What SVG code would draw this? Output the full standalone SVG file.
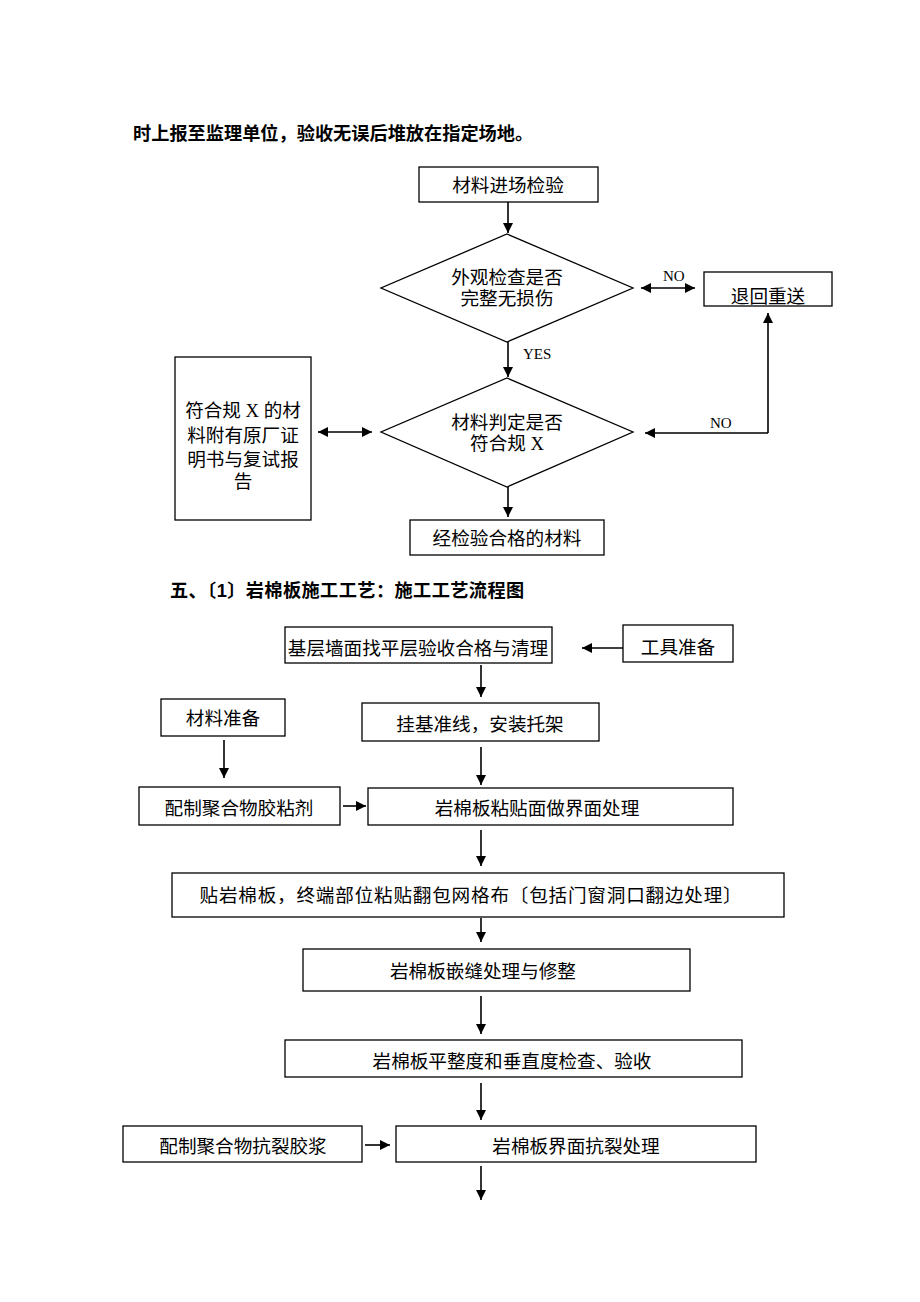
<svg xmlns="http://www.w3.org/2000/svg" width="920" height="1302" viewBox="0 0 920 1302">
<style>
.b{fill:#fff;stroke:#000;stroke-width:1.3}
.t{font-family:"Liberation Serif","Noto Sans CJK SC",serif;font-size:18.6px;fill:#000;text-anchor:middle;dominant-baseline:central}
.h{font-family:"Liberation Sans","Noto Sans CJK SC",sans-serif;font-size:18.2px;font-weight:bold;fill:#000}
.l{fill:none;stroke:#000;stroke-width:1.6}
.s{font-family:"Liberation Serif",serif;font-size:15px;fill:#000}
</style>
<defs>
<marker id="a" viewBox="0 0 10 10" refX="10" refY="5" markerWidth="10" markerHeight="10" markerUnits="userSpaceOnUse" orient="auto-start-reverse"><path d="M0,0L10,5L0,10z" fill="#000"/></marker>
</defs>
<text class="h" x="133" y="140">时上报至监理单位，验收无误后堆放在指定场地。</text>
<text class="h" x="170" y="597" letter-spacing="0.4">五、〔1〕岩棉板施工工艺：施工工艺流程图</text>
<g id="n1"><rect class="b" x="419" y="167" width="179" height="35"/><text class="t" x="508" y="185">材料进场检验</text></g>
<g id="d1"><polygon class="b" points="507,234 633,288 507,342 381,288"/><text class="t" x="507" y="277">外观检查是否</text><text class="t" x="507" y="298">完整无损伤</text></g>
<g id="n2"><rect class="b" x="704" y="272" width="128" height="34"/><text class="t" x="768" y="296">退回重送</text></g>
<g id="d2"><polygon class="b" points="507,378 633,432 507,487 381,432"/><text class="t" x="507" y="422">材料判定是否</text><text class="t" x="507" y="443">符合规 X</text></g>
<g id="n3"><rect class="b" x="175" y="357" width="136" height="163"/><text class="t" x="243" y="410">符合规 X 的材</text><text class="t" x="243" y="435">料附有原厂证</text><text class="t" x="243" y="459">明书与复试报</text><text class="t" x="243" y="481">告</text></g>
<g id="n4"><rect class="b" x="410" y="520" width="194" height="35"/><text class="t" x="507" y="538">经检验合格的材料</text></g>
<g id="n5"><rect class="b" x="285" y="627" width="267" height="36"/><text class="t" x="418" y="648">基层墙面找平层验收合格与清理</text></g>
<g id="n6"><rect class="b" x="623" y="625" width="110" height="37"/><text class="t" x="678" y="647">工具准备</text></g>
<g id="n7"><rect class="b" x="362" y="703" width="237" height="38"/><text class="t" x="480" y="724">挂基准线，安装托架</text></g>
<g id="n8"><rect class="b" x="161" y="699" width="124" height="37"/><text class="t" x="223" y="718">材料准备</text></g>
<g id="n9"><rect class="b" x="139" y="787" width="201" height="38"/><text class="t" x="239" y="808">配制聚合物胶粘剂</text></g>
<g id="n10"><rect class="b" x="368" y="788" width="365" height="37"/><text class="t" x="537" y="808">岩棉板粘贴面做界面处理</text></g>
<g id="n11"><rect class="b" x="172" y="873" width="612" height="44"/><text class="t" x="471" y="895" letter-spacing="0.8">贴岩棉板，终端部位粘贴翻包网格布〔包括门窗洞口翻边处理〕</text></g>
<g id="n12"><rect class="b" x="303" y="949" width="387" height="42"/><text class="t" x="483" y="971">岩棉板嵌缝处理与修整</text></g>
<g id="n13"><rect class="b" x="285" y="1040" width="457" height="37"/><text class="t" x="512" y="1061">岩棉板平整度和垂直度检查、验收</text></g>
<g id="n14"><rect class="b" x="123" y="1126" width="239" height="36"/><text class="t" x="243" y="1146">配制聚合物抗裂胶浆</text></g>
<g id="n15"><rect class="b" x="396" y="1126" width="360" height="36"/><text class="t" x="576" y="1146">岩棉板界面抗裂处理</text></g>
<g id="connectors">
<path class="l" d="M508,202V233" marker-end="url(#a)"/>
<path class="l" d="M641,288H695" marker-start="url(#a)" marker-end="url(#a)"/>
<text class="s" x="663" y="281">NO</text>
<path class="l" d="M508,342V377" marker-end="url(#a)"/>
<text class="s" x="523" y="359">YES</text>
<path class="l" d="M768,433V313" marker-end="url(#a)"/>
<path class="l" d="M768,433H645" marker-end="url(#a)"/>
<text class="s" x="710" y="428">NO</text>
<path class="l" d="M318,432H372" marker-start="url(#a)" marker-end="url(#a)"/>
<path class="l" d="M508,487V517" marker-end="url(#a)"/>
<path class="l" d="M623,648H582" marker-end="url(#a)"/>
<path class="l" d="M481,665V697" marker-end="url(#a)"/>
<path class="l" d="M224,740V778" marker-end="url(#a)"/>
<path class="l" d="M481,747V785" marker-end="url(#a)"/>
<path class="l" d="M343,806H366" marker-end="url(#a)"/>
<path class="l" d="M481,830V866" marker-end="url(#a)"/>
<path class="l" d="M481,918V942" marker-end="url(#a)"/>
<path class="l" d="M481,996V1034" marker-end="url(#a)"/>
<path class="l" d="M481,1083V1120" marker-end="url(#a)"/>
<path class="l" d="M365,1145H390" marker-end="url(#a)"/>
<path class="l" d="M481,1166V1200" marker-end="url(#a)"/>
</g>
</svg>
